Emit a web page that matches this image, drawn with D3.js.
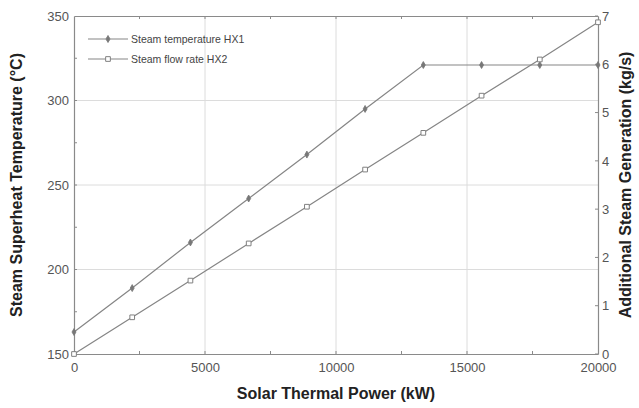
<!DOCTYPE html>
<html>
<head>
<meta charset="utf-8">
<script src="https://cdn.jsdelivr.net/npm/d3@7"></script>
<style>
  body { margin: 0; background: #fff; }
  svg text { font-family: "Liberation Sans", Arial, sans-serif; }
</style>
</head>
<body>
<div id="chart"></div>
<script>
"use strict";

// data
var power = [0, 2222, 4444, 6667, 8889, 11111, 13333, 15556, 17778, 20000];
var steamTemp = [163, 189, 216, 242, 268, 295, 321, 321, 321, 321];
var steamFlow = [0, 0.76, 1.52, 2.29, 3.05, 3.82, 4.58, 5.35, 6.1, 6.87];

var xTicks = [0, 5000, 10000, 15000, 20000];
var yTicks = [150, 200, 250, 300, 350];
var y2Ticks = [0, 1, 2, 3, 4, 5, 6, 7];

var seriesNames = ["Steam temperature HX1", "Steam flow rate HX2"];

var width = 639, height = 408;
var margin = {top: 16, right: 41, bottom: 54, left: 74};

var svg = d3.select("#chart").append("svg")
    .attr("width", width)
    .attr("height", height);

var x = d3.scaleLinear().domain([0, 20000])
    .range([margin.left, width - margin.right]);
var y = d3.scaleLinear().domain([150, 350])
    .range([height - margin.bottom, margin.top]);
var y2 = d3.scaleLinear().domain([0, 7])
    .range([height - margin.bottom, margin.top]);

var x0 = margin.left, x1 = width - margin.right;
var yb = height - margin.bottom, yt = margin.top;

// grid
var grid = svg.append("g").attr("stroke", "#dcdcdc").attr("stroke-width", 1);
grid.selectAll(".gx")
    .data(xTicks.slice(1, -1))
    .enter().append("line")
    .attr("x1", function(d) { return x(d); })
    .attr("x2", function(d) { return x(d); })
    .attr("y1", yb).attr("y2", yt);
grid.selectAll(".gy")
    .data(yTicks.slice(1, -1))
    .enter().append("line")
    .attr("y1", function(d) { return y(d); })
    .attr("y2", function(d) { return y(d); })
    .attr("x1", x0).attr("x2", x1);

// axes
function styleAxis(g) {
    g.select(".domain").attr("stroke", "#8a8a8a").attr("stroke-width", 1.2);
    g.selectAll(".tick line").attr("stroke", "#8a8a8a");
    g.selectAll(".tick text").attr("fill", "#555").style("font-size", "13px");
}

svg.append("g")
    .attr("transform", "translate(0," + yb + ")")
    .call(d3.axisBottom(x).tickValues(xTicks).tickSize(0).tickPadding(9).tickFormat(d3.format("d")))
    .call(styleAxis);
svg.append("g")
    .attr("transform", "translate(0," + yt + ")")
    .call(d3.axisTop(x).tickValues([]).tickSize(0))
    .call(styleAxis);
svg.append("g")
    .attr("transform", "translate(" + x0 + ",0)")
    .call(d3.axisLeft(y).tickValues(yTicks).tickSize(0).tickPadding(5))
    .call(styleAxis);
svg.append("g")
    .attr("transform", "translate(" + x1 + ",0)")
    .call(d3.axisRight(y2).tickValues(y2Ticks).tickSize(0).tickPadding(4).tickFormat(d3.format("d")))
    .call(styleAxis);

// small inner ticks
var ticks = svg.append("g").attr("stroke", "#8a8a8a");
var minorX = d3.range(2500, 20000, 2500);
ticks.selectAll(".mxb").data(minorX).enter().append("line")
    .attr("x1", function(d) { return x(d); }).attr("x2", function(d) { return x(d); })
    .attr("y1", yb).attr("y2", yb - 3);
ticks.selectAll(".mxt").data(minorX).enter().append("line")
    .attr("x1", function(d) { return x(d); }).attr("x2", function(d) { return x(d); })
    .attr("y1", yt).attr("y2", yt + 3);
var minorY = d3.range(175, 350, 25);
ticks.selectAll(".my").data(minorY).enter().append("line")
    .attr("y1", function(d) { return y(d); }).attr("y2", function(d) { return y(d); })
    .attr("x1", x0).attr("x2", x0 + 3);
ticks.selectAll(".my2").data(y2Ticks).enter().append("line")
    .attr("y1", function(d) { return y2(d); }).attr("y2", function(d) { return y2(d); })
    .attr("x1", x1).attr("x2", x1 - 3);

// lines
var lineColor = "#858585";
var tempLine = d3.line()
    .x(function(d, i) { return x(power[i]); })
    .y(function(d) { return y(d); });
var flowLine = d3.line()
    .x(function(d, i) { return x(power[i]); })
    .y(function(d) { return y2(d); });

svg.append("path").datum(steamTemp)
    .attr("d", tempLine)
    .attr("fill", "none").attr("stroke", lineColor).attr("stroke-width", 1.2);
svg.append("path").datum(steamFlow)
    .attr("d", flowLine)
    .attr("fill", "none").attr("stroke", lineColor).attr("stroke-width", 1.2);

var diamond = d3.symbol().type(d3.symbolDiamond).size(14);
var square = d3.symbol().type(d3.symbolSquare).size(22);

svg.selectAll(".mt").data(steamTemp).enter().append("path")
    .attr("d", diamond)
    .attr("transform", function(d, i) { return "translate(" + x(power[i]) + "," + y(d) + ")"; })
    .attr("fill", "#777").attr("stroke", "#777").attr("stroke-width", 0.8);
svg.selectAll(".mf").data(steamFlow).enter().append("path")
    .attr("d", square)
    .attr("transform", function(d, i) { return "translate(" + x(power[i]) + "," + y2(d) + ")"; })
    .attr("fill", "#fff").attr("stroke", "#808080").attr("stroke-width", 1);

// legend
var legend = svg.append("g");
seriesNames.forEach(function(name, i) {
    var ly = 39 + i * 20;
    legend.append("line")
        .attr("x1", 88).attr("x2", 128).attr("y1", ly).attr("y2", ly)
        .attr("stroke", lineColor).attr("stroke-width", 1.2);
    legend.append("path")
        .attr("d", i === 0 ? diamond : square)
        .attr("transform", "translate(108," + ly + ")")
        .attr("fill", i === 0 ? "#777" : "#fff")
        .attr("stroke", "#808080");
    legend.append("text")
        .attr("x", 131).attr("y", ly + 4)
        .attr("fill", "#444")
        .style("font-size", "10.5px")
        .text(name);
});

// axis titles
svg.append("text")
    .attr("x", (x0 + x1) / 2).attr("y", 399)
    .attr("text-anchor", "middle")
    .attr("fill", "#222")
    .style("font-size", "16px").style("font-weight", "bold")
    .text("Solar Thermal Power (kW)");
svg.append("text")
    .attr("transform", "translate(22," + ((yt + yb) / 2) + ") rotate(-90)")
    .attr("text-anchor", "middle")
    .attr("fill", "#222")
    .style("font-size", "16px").style("font-weight", "bold")
    .text("Steam Superheat Temperature (°C)");
svg.append("text")
    .attr("transform", "translate(631," + ((yt + yb) / 2) + ") rotate(-90)")
    .attr("text-anchor", "middle")
    .attr("fill", "#222")
    .style("font-size", "16px").style("font-weight", "bold")
    .text("Additional Steam Generation (kg/s)");
</script>
</body>
</html>
